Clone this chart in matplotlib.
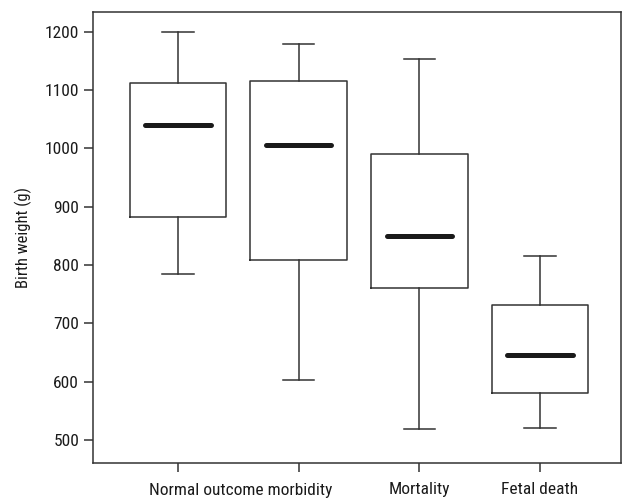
import matplotlib
matplotlib.use("Agg")
import matplotlib.pyplot as plt
import matplotlib.transforms as mtransforms
from matplotlib import font_manager as fm

# values (g)
groups = ["Normal outcome", "morbidity", "Mortality", "Fetal death"]
whislo = [785, 603, 518, 521]
q1 = [883, 809, 761, 580]
medians = [1040, 1006, 850, 646]
q3 = [1113, 1116, 990, 732]
whishi = [1200, 1179, 1154, 816]
yticks = [500, 600, 700, 800, 900, 1000, 1100, 1200]

# the reference uses a narrow sans; take whatever condensed face is around
fonts = fm.fontManager.ttflist
names = {f.name for f in fonts}
family = None
stretch = "normal"
for n in ["Liberation Sans Narrow", "Roboto Condensed", "Open Sans Condensed",
          "DejaVu Sans Condensed"]:
    if n in names:
        family = n
        break
if family is None:
    for n in ["Roboto", "Open Sans", "DejaVu Sans"]:
        if any(f.name == n and str(f.stretch) in ("condensed", "semi-condensed")
               for f in fonts):
            family = n
            stretch = "condensed"
            break
if family is None:
    family = "Liberation Sans"
plt.rcParams['font.family'] = [family, 'DejaVu Sans']
plt.rcParams['font.stretch'] = stretch

line_col = "#333333"
txt_col = "#1a1a1a"

fig = plt.figure(figsize=(6.23, 4.99), dpi=100)
ax = fig.add_axes([0.1493, 0.0727, 0.8475, 0.9033])

stats = []
for i in range(len(groups)):
    stats.append({
        "label": groups[i],
        "whislo": whislo[i],
        "q1": q1[i],
        "med": medians[i],
        "q3": q3[i],
        "whishi": whishi[i],
        "fliers": [],
    })

pos = list(range(1, len(groups) + 1))
ax.bxp(stats, positions=pos, widths=0.8, capwidths=0.26, showfliers=False,
       boxprops=dict(color=line_col, linewidth=1.1),
       whiskerprops=dict(color=line_col, linewidth=1.1),
       capprops=dict(color=line_col, linewidth=1.1),
       medianprops=dict(linewidth=0))

# thick rounded median bars, shorter than the boxes
ax.hlines(medians, [p - 0.27 for p in pos], [p + 0.27 for p in pos],
          colors=txt_col, linewidth=3.6, capstyle="round", zorder=3)

ax.set_xlim(0.296, 4.671)
ax.set_ylim(461, 1234)
ax.set_yticks(yticks)
ax.set_yticklabels([str(v) for v in yticks])
ax.set_xticks(pos)
ax.set_xticklabels(["", "", "Mortality", "Fetal death"])

# first two groups share one label in the original
trans = mtransforms.blended_transform_factory(ax.transData, ax.transAxes)
ax.text(1.52, -0.045, "Normal outcome morbidity", transform=trans,
        ha="center", va="top", fontsize=12.5, color=txt_col)

ax.tick_params(axis="both", direction="out", length=6.5, width=1.1,
               color=line_col, labelsize=12.5, labelcolor=txt_col)
ax.tick_params(axis="x", pad=7.5)
ax.tick_params(axis="y", pad=3.5)

for s in ax.spines.values():
    s.set_color(line_col)
    s.set_linewidth(1.1)

ax.set_ylabel("Birth weight (g)", fontsize=12, color=txt_col, labelpad=9)

fig.savefig("out.png", dpi=100)
